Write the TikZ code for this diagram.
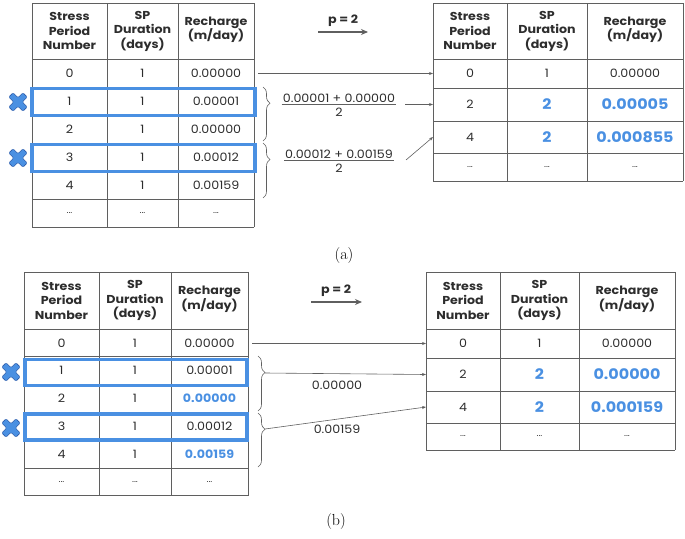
\documentclass[tikz,border=0pt]{standalone}
\usepackage{fontspec}
\usepackage{tikz}
\usetikzlibrary{decorations.pathreplacing,arrows.meta}
\newfontfamily\tabfont[FakeStretch=1.1]{Poppins}
\definecolor{hlblue}{RGB}{74,144,226}
\definecolor{xblue}{RGB}{40,90,170}
\definecolor{gridgray}{RGB}{95,95,95}
\definecolor{txtgray}{RGB}{45,45,45}
\newcommand{\hlval}[1]{{\bfseries\color{hlblue}#1}}
\newcommand{\hlbig}[1]{{\bfseries\fontsize{14.5}{16}\selectfont\color{hlblue}#1}}
\newcommand{\cdotsx}{{\fontsize{8.5}{10}\selectfont ...}}
\newcommand{\xmark}[2]{%
  \filldraw[fill=hlblue, draw=xblue, line width=0.6pt, rounded corners=1.2pt,
    shift={(#1,#2)}, rotate=45]
    (3,3) -- (10,3) -- (10,-3) -- (3,-3) -- (3,-10) -- (-3,-10) -- (-3,-3)
    -- (-10,-3) -- (-10,3) -- (-3,3) -- (-3,10) -- (3,10) -- cycle;}
\tikzset{
  grid line/.style={gridgray, line width=0.7pt},
  cell/.style={font=\tabfont\fontsize{11.5}{13}\selectfont, text=txtgray, inner sep=0pt},
  headcell/.style={font=\tabfont\bfseries\fontsize{11.5}{14.5}\selectfont, text=txtgray, align=center, inner sep=0pt},
  rowbox/.style={draw=hlblue, line width=3.5pt},
  link/.style={-{Stealth[length=4pt,width=3pt]}, gridgray, line width=0.6pt},
  parrow/.style={-{Stealth[length=7pt,width=6pt]}, gridgray, line width=1.6pt},
  rbrace/.style={decorate, decoration={brace, amplitude=7pt, aspect=0.3}, gridgray, line width=0.6pt},
}

\begin{document}
\begin{tikzpicture}[x=1pt, y=-1pt]
\useasboundingbox (0,0) rectangle (685,538);

% ---------- (a) ----------
% left table
\foreach \x in {32,107,178,254}
    \draw[grid line] (\x,3) -- (\x,227);
\foreach \y in {3,59,87,115,143,171,199,227}
    \draw[grid line] (32,\y) -- (254,\y);
\node[headcell] (al-h1) at (69.5,31) {Stress\\Period\\Number};
\node[headcell] (al-h2) at (142.5,31) {SP\\Duration\\(days)};
\node[headcell] (al-h3) at (216,30) {Recharge\\(m/day)};
\foreach \n/\d/\r [count=\i] in {0/1/0.00000, 1/1/0.00001, 2/1/0.00000,
        3/1/0.00012, 4/1/0.00159, \cdotsx/\cdotsx/\cdotsx} {
    \node[cell] (al-\i-1) at (69.5,45+28*\i) {\n};
    \node[cell] (al-\i-2) at (142.5,45+28*\i) {\d};
    \node[cell] (al-\i-3) at (216,45+28*\i) {\r};
}
\draw[rowbox] (32,88.5) rectangle (255,115.5);
\draw[rowbox] (32,144.5) rectangle (255,171.5);
\xmark{18}{102}
\xmark{18}{158}

% right table
\foreach \x in {433,507,587,683}
    \draw[grid line] (\x,3) -- (\x,181);
\foreach \y in {3,59,88,121,153,181}
    \draw[grid line] (433,\y) -- (683,\y);
\node[headcell] (ar-h1) at (470,31) {Stress\\Period\\Number};
\node[headcell] (ar-h2) at (547,31) {SP\\Duration\\(days)};
\node[headcell] (ar-h3) at (635,30) {Recharge\\(m/day)};
\foreach \n/\d/\r/\y [count=\i] in {0/1/0.00000/73.5, 2/\hlbig{2}/\hlbig{0.00005}/104.5,
        4/\hlbig{2}/\hlbig{0.000855}/137, \cdotsx/\cdotsx/\cdotsx/167} {
    \node[cell] (ar-\i-1) at (470,\y) {\n};
    \node[cell] (ar-\i-2) at (547,\y) {\d};
    \node[cell] (ar-\i-3) at (635,\y) {\r};
}

% p = 2
\coordinate (pa-s) at (318,32);
\coordinate (pa-e) at (368,32);
\draw[parrow] (pa-s) -- (pa-e);
\node[headcell] (pa) at (343,21) {p = 2};

% braces and averages
\draw[rbrace] (263,87) -- (263,141);
\draw[rbrace] (263,143) -- (263,198);
\node[cell] (fa1-n) at (339,98) {0.00001 + 0.00000};
\node[cell] (fa1-d) at (339,112) {2};
\draw[gridgray, line width=0.6pt] ([xshift=-1pt,yshift=-2pt]fa1-n.south west) -- ([xshift=1pt,yshift=-2pt]fa1-n.south east);
\node[cell] (fa2-n) at (339,154) {0.00012 + 0.00159};
\node[cell] (fa2-d) at (339,168) {2};
\draw[gridgray, line width=0.6pt] ([xshift=-1pt,yshift=-2pt]fa2-n.south west) -- ([xshift=1pt,yshift=-2pt]fa2-n.south east);

\coordinate (al-0) at (258,73.5);
\coordinate (ar-0) at (433,73.5);
\coordinate (fa1-o) at (405,104.5);
\coordinate (ar-2) at (433,104.5);
\coordinate (fa2-o) at (406,160);
\coordinate (ar-4) at (433,137);
\draw[link] (al-0) -- (ar-0);
\draw[link] (fa1-o) -- (ar-2);
\draw[link] (fa2-o) -- (ar-4);

\node[font=\fontsize{16}{18}\selectfont] (cap-a) at (344,256) {(a)};

% ---------- (b) ----------
% left table
\foreach \x in {24,99,171,248}
    \draw[grid line] (\x,272) -- (\x,496);
\foreach \y in {272,329,356.8,384.6,412.4,440.2,468,495.8}
    \draw[grid line] (24,\y) -- (248,\y);
\node[headcell] (bl-h1) at (61.5,300.5) {Stress\\Period\\Number};
\node[headcell] (bl-h2) at (135,300.5) {SP\\Duration\\(days)};
\node[headcell] (bl-h3) at (209.5,299.5) {Recharge\\(m/day)};
\foreach \n/\d/\r [count=\i] in {0/1/0.00000, 1/1/0.00001, 2/1/\hlval{0.00000},
        3/1/0.00012, 4/1/\hlval{0.00159}, \cdotsx/\cdotsx/\cdotsx} {
    \node[cell] (bl-\i-1) at (61.5,315.1+27.8*\i) {\n};
    \node[cell] (bl-\i-2) at (135,315.1+27.8*\i) {\d};
    \node[cell] (bl-\i-3) at (209.5,315.1+27.8*\i) {\r};
}
\draw[rowbox] (25,359.5) rectangle (247,385.5);
\draw[rowbox] (25,414) rectangle (247,440);
\xmark{11}{372}
\xmark{11}{428}

% right table
\foreach \x in {426,500,579,675}
    \draw[grid line] (\x,272) -- (\x,450);
\foreach \y in {272,329,358,391,423,450}
    \draw[grid line] (426,\y) -- (675,\y);
\node[headcell] (br-h1) at (463,300.5) {Stress\\Period\\Number};
\node[headcell] (br-h2) at (539.5,300.5) {SP\\Duration\\(days)};
\node[headcell] (br-h3) at (627,299.5) {Recharge\\(m/day)};
\foreach \n/\d/\r/\y [count=\i] in {0/1/0.00000/343.5, 2/\hlbig{2}/\hlbig{0.00000}/374.5,
        4/\hlbig{2}/\hlbig{0.000159}/407, \cdotsx/\cdotsx/\cdotsx/436.5} {
    \node[cell] (br-\i-1) at (463,\y) {\n};
    \node[cell] (br-\i-2) at (539.5,\y) {\d};
    \node[cell] (br-\i-3) at (627,\y) {\r};
}

% p = 2
\coordinate (pb-s) at (311,302);
\coordinate (pb-e) at (362,302);
\draw[parrow] (pb-s) -- (pb-e);
\node[headcell] (pb) at (336,291) {p = 2};

% braces and picked values
\draw[rbrace] (258,356) -- (258,411);
\draw[rbrace] (258,413) -- (258,467);
\coordinate (bl-0) at (252,343.5);
\coordinate (br-0) at (426,343.5);
\coordinate (tb1) at (265,373);
\coordinate (br-2) at (426,374.5);
\coordinate (tb2) at (265,429);
\coordinate (br-4) at (426,407);
\draw[link] (bl-0) -- (br-0);
\draw[link] (tb1) -- (br-2);
\draw[link] (tb2) -- (br-4);
\node[cell] (vb1) at (337,385) {0.00000};
\node[cell] (vb2) at (337,429) {0.00159};

\node[font=\fontsize{16}{18}\selectfont] (cap-b) at (336,522) {(b)};
\end{tikzpicture}
\end{document}
